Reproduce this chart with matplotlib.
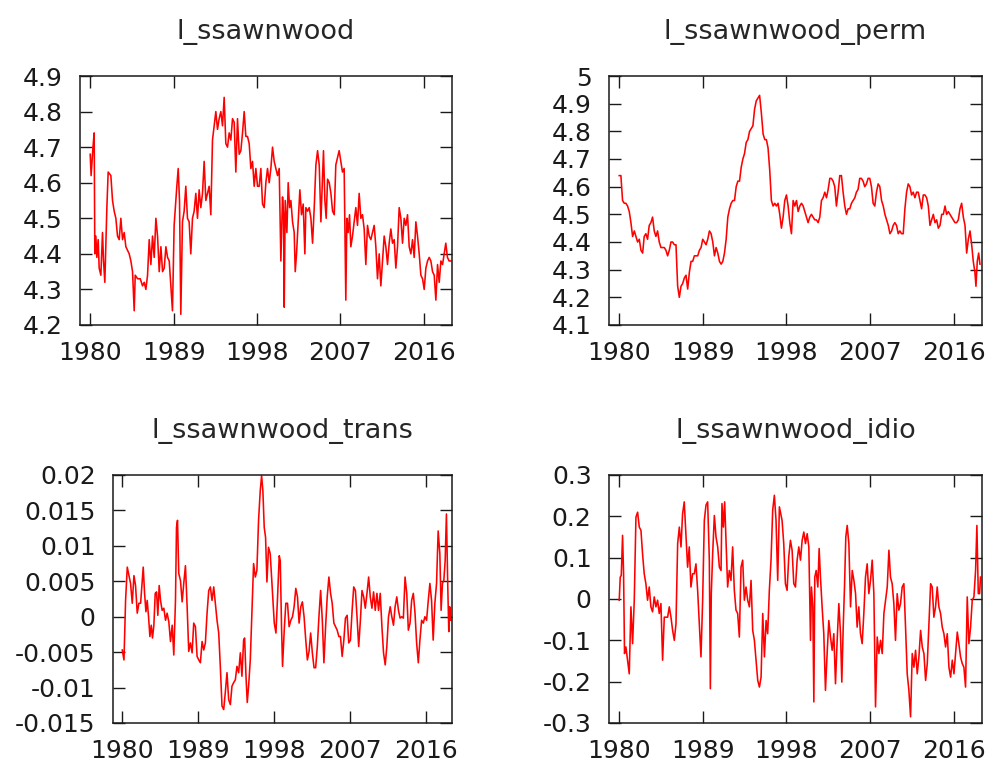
import matplotlib
matplotlib.use("Agg")
import matplotlib.pyplot as plt
from matplotlib.ticker import FuncFormatter

# monthly sawnwood price (log) and its decomposition, sampled by eye-spaced dates
level_years = [
    1980.00, 1980.10, 1980.30, 1980.43, 1980.50, 1980.61, 1980.72, 1980.86, 1980.97, 1981.15,
    1981.33, 1981.44, 1981.58, 1981.80, 1981.94, 1982.23, 1982.41, 1982.59, 1982.77, 1982.95,
    1983.13, 1983.31, 1983.49, 1983.67, 1983.85, 1984.03, 1984.21, 1984.39, 1984.57, 1984.75,
    1984.86, 1985.11, 1985.40, 1985.65, 1985.83, 1986.01, 1986.19, 1986.37, 1986.55, 1986.73,
    1986.91, 1987.09, 1987.27, 1987.45, 1987.63, 1987.81, 1987.99, 1988.17, 1988.35, 1988.53,
    1988.71, 1988.88, 1989.06, 1989.35, 1989.50, 1989.64, 1989.78, 1989.96, 1990.14, 1990.32,
    1990.50, 1990.68, 1990.86, 1991.04, 1991.22, 1991.40, 1991.58, 1991.76, 1991.94, 1992.12,
    1992.30, 1992.48, 1992.66, 1992.84, 1993.02, 1993.20, 1993.38, 1993.56, 1993.74, 1993.92,
    1994.10, 1994.28, 1994.46, 1994.64, 1994.82, 1995.00, 1995.18, 1995.36, 1995.54, 1995.72,
    1995.90, 1996.08, 1996.26, 1996.44, 1996.62, 1996.80, 1996.98, 1997.16, 1997.34, 1997.52,
    1997.70, 1997.88, 1998.06, 1998.24, 1998.42, 1998.60, 1998.78, 1998.96, 1999.14, 1999.32,
    1999.50, 1999.68, 1999.86, 2000.04, 2000.22, 2000.40, 2000.58, 2000.76, 2000.87, 2000.94,
    2001.05, 2001.23, 2001.37, 2001.52, 2001.66, 2001.84, 2002.02, 2002.13, 2002.27, 2002.45,
    2002.63, 2002.81, 2002.99, 2003.17, 2003.28, 2003.46, 2003.64, 2003.82, 2004.00, 2004.18,
    2004.36, 2004.54, 2004.72, 2004.90, 2005.08, 2005.18, 2005.33, 2005.47, 2005.62, 2005.80,
    2005.98, 2006.16, 2006.34, 2006.51, 2006.69, 2006.87, 2007.05, 2007.23, 2007.41, 2007.59,
    2007.70, 2007.84, 2007.99, 2008.13, 2008.31, 2008.49, 2008.67, 2008.85, 2009.03, 2009.21,
    2009.39, 2009.57, 2009.75, 2009.93, 2010.11, 2010.29, 2010.47, 2010.65, 2010.83, 2011.01,
    2011.19, 2011.37, 2011.55, 2011.73, 2011.91, 2012.09, 2012.27, 2012.45, 2012.63, 2012.81,
    2012.99, 2013.17, 2013.35, 2013.53, 2013.71, 2013.89, 2014.07, 2014.25, 2014.43, 2014.61,
    2014.79, 2014.97, 2015.15, 2015.33, 2015.51, 2015.69, 2015.87, 2016.05, 2016.23, 2016.41,
    2016.59, 2016.77, 2016.95, 2017.13, 2017.31, 2017.49, 2017.67, 2017.85, 2018.03, 2018.21,
    2018.38, 2018.56, 2018.74, 2018.92,
]
level = [
    4.68, 4.62, 4.70, 4.74, 4.40, 4.45, 4.39, 4.44, 4.36, 4.34,
    4.46, 4.38, 4.32, 4.53, 4.63, 4.62, 4.55, 4.52, 4.50, 4.45,
    4.44, 4.50, 4.44, 4.46, 4.42, 4.41, 4.40, 4.38, 4.35, 4.24,
    4.34, 4.33, 4.33, 4.31, 4.32, 4.30, 4.34, 4.44, 4.37, 4.45,
    4.39, 4.50, 4.45, 4.35, 4.42, 4.35, 4.36, 4.42, 4.39, 4.38,
    4.31, 4.24, 4.48, 4.59, 4.64, 4.55, 4.23, 4.49, 4.52, 4.59,
    4.50, 4.49, 4.40, 4.50, 4.52, 4.57, 4.50, 4.58, 4.53, 4.57,
    4.66, 4.55, 4.57, 4.59, 4.51, 4.72, 4.76, 4.80, 4.75, 4.78,
    4.80, 4.76, 4.84, 4.71, 4.70, 4.74, 4.72, 4.78, 4.77, 4.63,
    4.78, 4.68, 4.69, 4.74, 4.80, 4.73, 4.73, 4.71, 4.64, 4.66,
    4.59, 4.64, 4.59, 4.59, 4.64, 4.54, 4.53, 4.60, 4.64, 4.60,
    4.64, 4.70, 4.66, 4.64, 4.62, 4.64, 4.38, 4.56, 4.51, 4.25,
    4.55, 4.46, 4.60, 4.53, 4.55, 4.49, 4.46, 4.35, 4.40, 4.49,
    4.58, 4.51, 4.54, 4.40, 4.53, 4.52, 4.53, 4.50, 4.43, 4.53,
    4.65, 4.69, 4.65, 4.49, 4.62, 4.69, 4.55, 4.50, 4.61, 4.60,
    4.57, 4.52, 4.51, 4.65, 4.67, 4.69, 4.66, 4.63, 4.64, 4.27,
    4.50, 4.46, 4.51, 4.42, 4.45, 4.49, 4.53, 4.48, 4.57, 4.50,
    4.51, 4.47, 4.37, 4.48, 4.45, 4.44, 4.46, 4.48, 4.42, 4.33,
    4.40, 4.31, 4.38, 4.45, 4.42, 4.37, 4.43, 4.47, 4.43, 4.44,
    4.36, 4.42, 4.53, 4.50, 4.43, 4.50, 4.48, 4.51, 4.42, 4.40,
    4.44, 4.39, 4.49, 4.45, 4.40, 4.34, 4.33, 4.30, 4.36, 4.38,
    4.39, 4.38, 4.35, 4.34, 4.27, 4.37, 4.32, 4.38, 4.37, 4.40,
    4.43, 4.39, 4.38, 4.38,
]

perm_years = [
    1980.00, 1980.18, 1980.36, 1980.54, 1980.72, 1980.90, 1981.08, 1981.26, 1981.44, 1981.62,
    1981.80, 1981.98, 1982.16, 1982.34, 1982.52, 1982.69, 1982.87, 1983.05, 1983.23, 1983.41,
    1983.59, 1983.77, 1983.95, 1984.13, 1984.31, 1984.49, 1984.67, 1984.85, 1985.03, 1985.21,
    1985.39, 1985.57, 1985.75, 1985.93, 1986.11, 1986.29, 1986.47, 1986.65, 1986.83, 1987.01,
    1987.19, 1987.37, 1987.55, 1987.73, 1987.91, 1988.09, 1988.27, 1988.45, 1988.63, 1988.81,
    1988.99, 1989.17, 1989.35, 1989.53, 1989.71, 1989.89, 1990.07, 1990.25, 1990.43, 1990.61,
    1990.79, 1990.97, 1991.15, 1991.33, 1991.51, 1991.69, 1991.87, 1992.05, 1992.23, 1992.41,
    1992.59, 1992.77, 1992.95, 1993.13, 1993.31, 1993.49, 1993.67, 1993.85, 1994.03, 1994.21,
    1994.39, 1994.57, 1994.75, 1994.93, 1995.11, 1995.29, 1995.49, 1995.67, 1995.84, 1996.02,
    1996.20, 1996.38, 1996.56, 1996.74, 1996.92, 1997.10, 1997.28, 1997.46, 1997.64, 1997.82,
    1998.00, 1998.18, 1998.36, 1998.54, 1998.72, 1998.90, 1999.08, 1999.26, 1999.44, 1999.62,
    1999.80, 1999.98, 2000.16, 2000.33, 2000.51, 2000.69, 2000.87, 2001.05, 2001.23, 2001.41,
    2001.59, 2001.77, 2001.95, 2002.13, 2002.31, 2002.49, 2002.67, 2002.84, 2003.02, 2003.20,
    2003.38, 2003.56, 2003.74, 2003.92, 2004.10, 2004.28, 2004.46, 2004.64, 2004.82, 2005.00,
    2005.18, 2005.36, 2005.53, 2005.71, 2005.89, 2006.07, 2006.25, 2006.43, 2006.61, 2006.79,
    2006.97, 2007.15, 2007.33, 2007.51, 2007.69, 2007.87, 2008.05, 2008.24, 2008.42, 2008.60,
    2008.78, 2008.96, 2009.14, 2009.32, 2009.49, 2009.67, 2009.85, 2010.03, 2010.21, 2010.39,
    2010.57, 2010.75, 2010.93, 2011.11, 2011.29, 2011.47, 2011.65, 2011.83, 2012.01, 2012.19,
    2012.37, 2012.55, 2012.73, 2012.91, 2013.09, 2013.27, 2013.45, 2013.63, 2013.81, 2013.99,
    2014.17, 2014.35, 2014.53, 2014.71, 2014.89, 2015.07, 2015.24, 2015.42, 2015.60, 2015.78,
    2015.96, 2016.14, 2016.32, 2016.50, 2016.68, 2016.86, 2017.04, 2017.22, 2017.40, 2017.58,
    2017.76, 2017.94, 2018.11, 2018.29, 2018.40, 2018.54, 2018.69, 2018.83,
]
perm = [
    4.64, 4.64, 4.55, 4.54, 4.54, 4.53, 4.51, 4.47, 4.42, 4.44,
    4.42, 4.40, 4.41, 4.37, 4.36, 4.42, 4.43, 4.41, 4.46, 4.47,
    4.49, 4.44, 4.42, 4.44, 4.40, 4.38, 4.38, 4.38, 4.37, 4.35,
    4.37, 4.40, 4.40, 4.39, 4.39, 4.24, 4.20, 4.24, 4.25, 4.27,
    4.28, 4.23, 4.29, 4.33, 4.33, 4.35, 4.35, 4.35, 4.37, 4.38,
    4.41, 4.40, 4.39, 4.41, 4.44, 4.43, 4.40, 4.35, 4.38, 4.36,
    4.33, 4.32, 4.33, 4.36, 4.41, 4.49, 4.52, 4.54, 4.55, 4.55,
    4.60, 4.62, 4.62, 4.67, 4.70, 4.72, 4.76, 4.77, 4.80, 4.81,
    4.82, 4.88, 4.91, 4.92, 4.93, 4.87, 4.79, 4.77, 4.77, 4.74,
    4.66, 4.55, 4.53, 4.54, 4.53, 4.54, 4.50, 4.45, 4.49, 4.55,
    4.57, 4.53, 4.47, 4.43, 4.55, 4.53, 4.55, 4.51, 4.53, 4.54,
    4.53, 4.51, 4.49, 4.47, 4.49, 4.50, 4.49, 4.48, 4.48, 4.47,
    4.49, 4.55, 4.56, 4.58, 4.56, 4.59, 4.63, 4.63, 4.62, 4.60,
    4.53, 4.58, 4.64, 4.64, 4.58, 4.53, 4.50, 4.52, 4.52, 4.54,
    4.55, 4.56, 4.58, 4.59, 4.63, 4.63, 4.62, 4.60, 4.61, 4.63,
    4.63, 4.60, 4.54, 4.53, 4.58, 4.61, 4.60, 4.55, 4.53, 4.50,
    4.48, 4.46, 4.43, 4.44, 4.46, 4.47, 4.46, 4.43, 4.44, 4.43,
    4.43, 4.52, 4.58, 4.61, 4.60, 4.57, 4.58, 4.56, 4.58, 4.58,
    4.55, 4.52, 4.57, 4.57, 4.56, 4.53, 4.46, 4.48, 4.50, 4.47,
    4.48, 4.45, 4.46, 4.50, 4.50, 4.53, 4.50, 4.51, 4.50, 4.49,
    4.48, 4.47, 4.47, 4.48, 4.52, 4.54, 4.49, 4.46, 4.36, 4.41,
    4.44, 4.39, 4.33, 4.29, 4.24, 4.33, 4.36, 4.32,
]

trans_years = [
    1980.00, 1980.20, 1980.39, 1980.59, 1980.79, 1980.98, 1981.18, 1981.38, 1981.57, 1981.77,
    1981.97, 1982.17, 1982.36, 1982.48, 1982.64, 1982.80, 1982.95, 1983.11, 1983.27, 1983.43,
    1983.58, 1983.74, 1983.90, 1984.06, 1984.21, 1984.37, 1984.53, 1984.72, 1984.92, 1985.12,
    1985.31, 1985.51, 1985.71, 1985.91, 1986.10, 1986.30, 1986.42, 1986.54, 1986.69, 1986.89,
    1987.09, 1987.28, 1987.48, 1987.68, 1987.87, 1988.07, 1988.27, 1988.46, 1988.66, 1988.86,
    1989.06, 1989.25, 1989.45, 1989.65, 1989.84, 1990.04, 1990.24, 1990.43, 1990.63, 1990.83,
    1991.02, 1991.22, 1991.42, 1991.61, 1991.81, 1992.01, 1992.20, 1992.40, 1992.60, 1992.80,
    1992.99, 1993.19, 1993.39, 1993.58, 1993.78, 1993.98, 1994.17, 1994.37, 1994.49, 1994.65,
    1994.80, 1994.96, 1995.16, 1995.35, 1995.55, 1995.75, 1995.94, 1996.14, 1996.34, 1996.50,
    1996.65, 1996.81, 1996.97, 1997.13, 1997.32, 1997.52, 1997.80, 1998.00, 1998.20, 1998.39,
    1998.59, 1998.71, 1998.86, 1998.98, 1999.18, 1999.37, 1999.57, 1999.76, 1999.96, 2000.16,
    2000.35, 2000.55, 2000.75, 2000.94, 2001.14, 2001.33, 2001.53, 2001.73, 2001.92, 2002.12,
    2002.31, 2002.51, 2002.71, 2002.90, 2003.10, 2003.29, 2003.49, 2003.69, 2003.88, 2004.08,
    2004.27, 2004.47, 2004.67, 2004.86, 2005.06, 2005.25, 2005.45, 2005.65, 2005.84, 2006.04,
    2006.24, 2006.43, 2006.63, 2006.82, 2007.02, 2007.22, 2007.41, 2007.61, 2007.80, 2008.00,
    2008.20, 2008.39, 2008.59, 2008.78, 2008.98, 2009.18, 2009.37, 2009.57, 2009.76, 2009.96,
    2010.16, 2010.35, 2010.55, 2010.75, 2010.94, 2011.14, 2011.33, 2011.53, 2011.73, 2011.92,
    2012.12, 2012.31, 2012.51, 2012.71, 2012.90, 2013.10, 2013.29, 2013.49, 2013.69, 2013.88,
    2014.08, 2014.27, 2014.47, 2014.67, 2014.86, 2015.06, 2015.25, 2015.45, 2015.65, 2015.84,
    2016.04, 2016.24, 2016.43, 2016.63, 2016.82, 2017.02, 2017.22, 2017.41, 2017.61, 2017.76,
    2017.92, 2018.08, 2018.24, 2018.39, 2018.55, 2018.67, 2018.78, 2018.90,
]
trans = [
    -0.0047, -0.0061, 0.0023, 0.0070, 0.0058, 0.0047, 0.0019, 0.0058, 0.0044, 0.0005,
    0.0019, 0.0019, 0.0051, 0.0070, 0.0033, 0.0007, 0.0023, 0.0000, -0.0028, -0.0012,
    -0.0030, -0.0012, 0.0033, 0.0035, 0.0002, 0.0044, 0.0023, 0.0009, 0.0012, -0.0005,
    0.0005, -0.0007, -0.0035, -0.0012, -0.0054, 0.0023, 0.0126, 0.0136, 0.0061, 0.0051,
    0.0021, 0.0047, 0.0072, 0.0014, -0.0049, -0.0037, -0.0051, -0.0009, -0.0014, -0.0056,
    -0.0061, -0.0065, -0.0035, -0.0047, -0.0037, 0.0005, 0.0037, 0.0042, 0.0023, 0.0042,
    0.0019, -0.0005, -0.0023, -0.0070, -0.0126, -0.0131, -0.0107, -0.0079, -0.0117, -0.0124,
    -0.0098, -0.0093, -0.0089, -0.0070, -0.0079, -0.0051, -0.0084, -0.0033, -0.0030, -0.0084,
    -0.0121, -0.0098, -0.0061, 0.0005, 0.0075, 0.0056, 0.0065, 0.0136, 0.0178, 0.0199,
    0.0178, 0.0126, 0.0112, 0.0049, 0.0098, 0.0089, 0.0033, -0.0009, -0.0023, 0.0028,
    0.0086, 0.0079, -0.0014, -0.0070, -0.0019, 0.0019, 0.0019, -0.0014, -0.0005, 0.0000,
    0.0014, 0.0040, 0.0028, -0.0009, 0.0014, 0.0021, 0.0000, -0.0033, -0.0061, -0.0049,
    -0.0023, -0.0051, -0.0072, -0.0072, -0.0042, 0.0000, 0.0037, -0.0005, -0.0065, -0.0014,
    0.0028, 0.0056, 0.0033, 0.0019, -0.0009, -0.0014, -0.0019, -0.0028, -0.0028, -0.0056,
    -0.0033, -0.0002, 0.0002, -0.0037, -0.0033, 0.0009, 0.0042, 0.0037, 0.0000, -0.0042,
    -0.0005, 0.0037, 0.0028, 0.0012, 0.0033, 0.0056, 0.0028, 0.0012, 0.0035, 0.0009,
    0.0033, 0.0009, 0.0033, -0.0014, -0.0051, -0.0068, -0.0042, 0.0000, 0.0014, 0.0000,
    -0.0012, 0.0014, 0.0028, 0.0009, -0.0002, 0.0000, -0.0002, 0.0056, 0.0033, -0.0019,
    -0.0009, 0.0023, 0.0033, 0.0005, -0.0037, -0.0065, -0.0033, -0.0005, -0.0009, 0.0000,
    -0.0005, 0.0023, 0.0047, 0.0023, -0.0033, 0.0019, 0.0047, 0.0121, 0.0089, 0.0009,
    0.0047, 0.0051, 0.0079, 0.0145, 0.0042, -0.0021, 0.0014, -0.0005,
]

idio_years = [
    1980.00, 1980.11, 1980.22, 1980.36, 1980.47, 1980.57, 1980.72, 1980.90, 1981.08, 1981.26,
    1981.44, 1981.62, 1981.80, 1981.98, 1982.16, 1982.34, 1982.51, 1982.69, 1982.87, 1983.05,
    1983.23, 1983.41, 1983.59, 1983.77, 1983.95, 1984.13, 1984.31, 1984.49, 1984.67, 1984.85,
    1985.03, 1985.21, 1985.39, 1985.57, 1985.75, 1985.93, 1986.11, 1986.29, 1986.47, 1986.65,
    1986.82, 1987.00, 1987.18, 1987.36, 1987.54, 1987.72, 1987.90, 1988.08, 1988.26, 1988.44,
    1988.62, 1988.80, 1988.98, 1989.16, 1989.34, 1989.52, 1989.70, 1989.81, 1989.91, 1990.06,
    1990.24, 1990.42, 1990.60, 1990.78, 1990.96, 1991.06, 1991.21, 1991.35, 1991.49, 1991.67,
    1991.85, 1992.03, 1992.21, 1992.39, 1992.57, 1992.75, 1992.93, 1993.11, 1993.29, 1993.47,
    1993.65, 1993.83, 1994.01, 1994.19, 1994.37, 1994.55, 1994.73, 1994.91, 1995.09, 1995.27,
    1995.45, 1995.63, 1995.81, 1995.98, 1996.16, 1996.34, 1996.52, 1996.70, 1996.88, 1997.06,
    1997.24, 1997.53, 1997.71, 1997.89, 1998.07, 1998.25, 1998.43, 1998.61, 1998.79, 1998.97,
    1999.15, 1999.33, 1999.51, 1999.69, 1999.87, 2000.05, 2000.23, 2000.41, 2000.59, 2000.69,
    2000.84, 2000.95, 2001.05, 2001.20, 2001.38, 2001.52, 2001.66, 2001.84, 2002.02, 2002.20,
    2002.38, 2002.56, 2002.74, 2002.92, 2003.10, 2003.28, 2003.46, 2003.64, 2003.82, 2003.96,
    2004.11, 2004.25, 2004.39, 2004.54, 2004.72, 2004.90, 2005.08, 2005.26, 2005.44, 2005.61,
    2005.79, 2005.97, 2006.15, 2006.33, 2006.51, 2006.69, 2006.87, 2007.05, 2007.23, 2007.41,
    2007.59, 2007.77, 2007.95, 2008.13, 2008.31, 2008.49, 2008.67, 2008.85, 2009.03, 2009.20,
    2009.38, 2009.56, 2009.74, 2009.92, 2010.10, 2010.28, 2010.46, 2010.64, 2010.82, 2011.00,
    2011.18, 2011.36, 2011.54, 2011.72, 2011.90, 2012.08, 2012.26, 2012.44, 2012.62, 2012.80,
    2012.98, 2013.16, 2013.34, 2013.52, 2013.69, 2013.87, 2014.05, 2014.23, 2014.41, 2014.59,
    2014.77, 2014.95, 2015.13, 2015.31, 2015.49, 2015.67, 2015.85, 2016.03, 2016.21, 2016.39,
    2016.56, 2016.74, 2016.92, 2017.10, 2017.28, 2017.46, 2017.64, 2017.82, 2018.00, 2018.18,
    2018.36, 2018.50, 2018.65, 2018.79, 2018.89,
]
idio = [
    -0.003, 0.053, 0.057, 0.154, 0.061, -0.132, -0.116, -0.148, -0.181, -0.019,
    -0.108, -0.003, 0.198, 0.210, 0.174, 0.166, 0.110, 0.061, 0.037, -0.003,
    0.029, -0.019, -0.031, 0.005, -0.019, -0.003, -0.035, -0.011, -0.148, -0.044,
    -0.044, -0.044, -0.019, -0.044, -0.076, -0.100, -0.060, 0.134, 0.174, 0.126,
    0.206, 0.235, 0.158, 0.077, 0.126, 0.029, 0.061, 0.061, 0.085, 0.021,
    -0.060, -0.140, -0.003, 0.190, 0.227, 0.235, 0.094, -0.217, 0.013, 0.110,
    0.202, 0.150, 0.126, 0.077, 0.069, 0.231, 0.174, 0.235, 0.142, 0.029,
    0.069, 0.045, 0.126, 0.021, -0.027, -0.035, -0.092, 0.077, 0.094, -0.003,
    0.029, -0.003, -0.019, 0.045, -0.076, -0.100, -0.148, -0.197, -0.213, -0.189,
    -0.035, -0.140, -0.052, -0.084, 0.021, 0.094, 0.215, 0.251, 0.190, 0.045,
    0.223, 0.190, 0.134, 0.037, 0.021, 0.102, 0.142, 0.118, 0.037, 0.029,
    0.094, 0.126, 0.094, 0.142, 0.162, 0.134, 0.158, 0.126, -0.100, 0.029,
    -0.019, -0.249, 0.053, 0.069, 0.029, 0.122, 0.053, -0.019, -0.084, -0.221,
    -0.132, -0.052, -0.092, -0.124, -0.084, -0.205, -0.100, -0.011, -0.084, -0.201,
    -0.068, 0.029, 0.150, 0.178, 0.134, -0.019, 0.069, 0.045, 0.013, -0.068,
    -0.019, -0.084, -0.108, -0.035, 0.053, 0.085, 0.013, 0.045, 0.094, 0.013,
    -0.261, -0.092, -0.132, -0.100, -0.132, -0.035, -0.003, 0.029, 0.118, 0.053,
    0.037, -0.011, -0.100, 0.013, -0.027, -0.011, 0.029, 0.037, -0.068, -0.181,
    -0.221, -0.285, -0.132, -0.165, -0.124, -0.181, -0.140, -0.076, -0.116, -0.132,
    -0.197, -0.156, -0.060, 0.037, 0.029, -0.044, -0.019, 0.029, -0.019, -0.035,
    -0.068, -0.084, -0.116, -0.084, -0.165, -0.189, -0.148, -0.181, -0.132, -0.080,
    -0.108, -0.140, -0.156, -0.165, -0.213, 0.005, -0.108, -0.068, -0.003, 0.005,
    0.069, 0.178, 0.013, 0.013, 0.053,
]

titles = ["l_ssawnwood", "l_ssawnwood_perm", "l_ssawnwood_trans", "l_ssawnwood_idio"]
year_ticks = [1980, 1989, 1998, 2007, 2016]

W, H = 993, 762
fig = plt.figure(figsize=(W / 100, H / 100), dpi=100)


def box(left, top, right, bottom):
    # pixel box -> figure fraction
    return [left / W, 1 - bottom / H, (right - left) / W, (bottom - top) / H]


panels = [
    (titles[0], level_years, level, (4.2, 4.9), [4.2, 4.3, 4.4, 4.5, 4.6, 4.7, 4.8, 4.9],
     box(80, 76, 452, 325)),
    (titles[1], perm_years, perm, (4.1, 5.0), [4.1, 4.2, 4.3, 4.4, 4.5, 4.6, 4.7, 4.8, 4.9, 5.0],
     box(609, 76, 982, 325)),
    (titles[2], trans_years, trans, (-0.015, 0.02),
     [-0.015, -0.01, -0.005, 0, 0.005, 0.01, 0.015, 0.02],
     box(113, 475, 452, 723)),
    (titles[3], idio_years, idio, (-0.3, 0.3), [-0.3, -0.2, -0.1, 0, 0.1, 0.2, 0.3],
     box(609, 475, 982, 723)),
]

ink = "#1a1a1a"
for title, t, v, ylim, yticks, rect in panels:
    ax = fig.add_axes(rect)
    ax.plot(t, v, color="#ff0000", lw=1.15)
    ax.set_xlim(1978.9, 2019.05)
    ax.set_ylim(*ylim)
    ax.set_xticks(year_ticks)
    ax.set_yticks(yticks)
    ax.xaxis.set_major_formatter(FuncFormatter(lambda x, p: "%d" % round(x)))
    ax.yaxis.set_major_formatter(FuncFormatter(lambda y, p: "%g" % round(y, 6)))
    ax.tick_params(direction="in", length=8.5, width=1.0, top=True, right=True,
                   labelsize=18, colors=ink)
    ax.tick_params(axis="y", pad=12.5)
    ax.tick_params(axis="x", pad=11.5)
    for s in ax.spines.values():
        s.set_linewidth(1.1)
        s.set_color(ink)
    ax.set_title(title, fontsize=19.5, color="#262626", pad=27)

fig.savefig("out.png", dpi=100)
